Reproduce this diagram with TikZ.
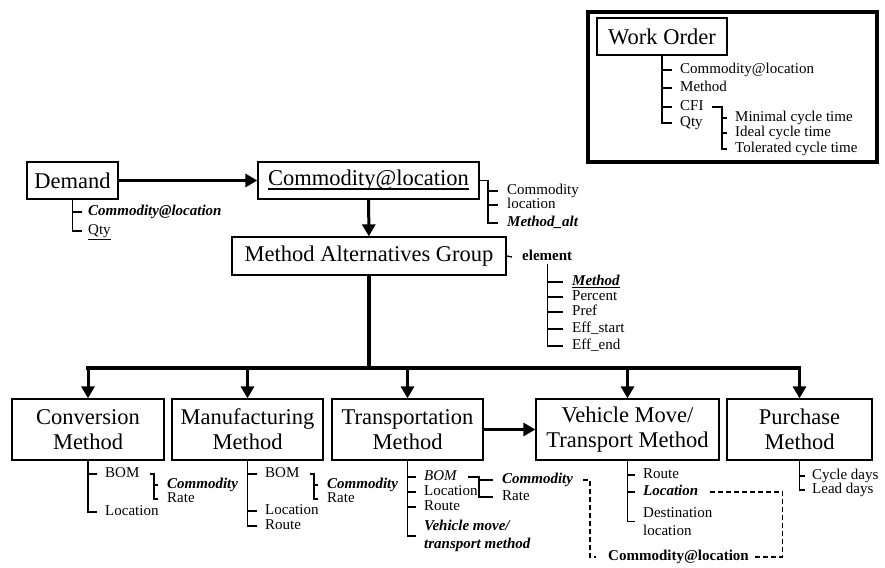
\documentclass[tikz,border=0pt]{standalone}
\usepackage{fontspec}
\setmainfont{Liberation Serif}
\usetikzlibrary{arrows.meta}
\tikzset{
	box/.style={draw,rectangle,line width=1.3pt,align=center,inner sep=0pt,font=\fontsize{22.5}{25}\selectfont},
	attr/.style={anchor=west,inner sep=0pt,text height=10pt,text depth=3pt,font=\fontsize{15}{17}\selectfont},
	attrtwo/.style={anchor=west,inner sep=0pt,align=left,font=\fontsize{15}{17.5}\selectfont},
	tree/.style={line width=1.3pt},
	link/.style={line width=3pt,-{Triangle[length=12pt,width=13pt]}},
	dashlink/.style={line width=1.5pt,dash pattern=on 5pt off 3pt}
}
\newcommand{\bi}[1]{\textbf{\textit{#1}}}
\newcommand{\bigul}[1]{\setbox0\hbox{#1}\rlap{\rule[-4pt]{\wd0}{1.8pt}}\box0}

\begin{document}
\begin{tikzpicture}[x=1pt,y=-1pt]
	\useasboundingbox (0,0) rectangle (885,567);
	% work order legend
	\node[draw,line width=4pt,minimum width=289pt,minimum height=150pt] (frame) at (732.5,87) {};
	\node[box,minimum width=130pt,minimum height=37pt] (wo) at (662,36.5) {Work Order};
	\node[attr] (wcal) at (680,70) {Commodity@location};
	\node[attr] (wmeth) at (680,88) {Method};
	\node[attr] (wcfi) at (680,107) {CFI};
	\node[attr] (wqty) at (680,123) {Qty};
	\node[attr] (wmin) at (735,118) {Minimal cycle time};
	\node[attr] (wideal) at (735,133) {Ideal cycle time};
	\node[attr] (wtol) at (735,149) {Tolerated cycle time};
	\draw[tree] (wo.south) |- ([xshift=-8pt]wqty.west);
	\foreach \n in {wcal,wmeth,wcfi} \draw[tree] (wo.south |- \n.west) -- ([xshift=-8pt]\n.west);
	\coordinate (cfi) at ([xshift=-13pt]wtol.west);
	\draw[tree] ([xshift=8pt]wcfi.east) -| (cfi) -- ([xshift=-8pt]wtol.west);
	\foreach \n in {wmin,wideal} \draw[tree] (cfi |- \n.west) -- ([xshift=-8pt]\n.west);

	% demand and commodity@location
	\node[box,minimum width=91pt,minimum height=37pt] (demand) at (72.5,180.5) {Demand};
	\node[box,minimum width=221pt,minimum height=37pt] (cal) at (368.5,180.5) {\bigul{Commodity@location}};
	\node[box,minimum width=274pt,minimum height=38pt] (mag) at (369,256) {Method Alternatives Group};
	\draw[link] (demand) -- (cal);
	\draw[link] (cal) -- (mag);
	\node[attr] (dcal) at (88,212) {\bi{Commodity@location}};
	\node[attr] (dqty) at (88,231) {\underline{Qty}};
	\draw[tree] (demand.south) |- ([xshift=-6pt]dqty.west);
	\draw[tree] (demand.south |- dcal.west) -- ([xshift=-6pt]dcal.west);
	\node[attr] (kcom) at (507,191) {Commodity};
	\node[attr] (kloc) at (507,205) {location};
	\node[attr] (kalt) at (507,223) {\bi{Method\_alt}};
	\coordinate (calb) at ([xshift=-19pt]kalt.west);
	\draw[tree] (cal.east) -| (calb) -- ([xshift=-9pt]kalt.west);
	\foreach \n in {kcom,kloc} \draw[tree] (calb |- \n.west) -- ([xshift=-9pt]\n.west);

	% element of the group
	\node[attr] (elem) at (522,257) {\textbf{element}};
	\draw[tree] (mag.east) -- ([xshift=-10pt]elem.west);
	\node[attr] (emeth) at (572,282) {\bi{\underline{Method}}};
	\node[attr] (eper) at (572,297) {Percent};
	\node[attr] (epref) at (572,312) {Pref};
	\node[attr] (estart) at (572,329) {Eff\_start};
	\node[attr] (eend) at (572,346) {Eff\_end};
	\draw[tree] (elem.south) |- ([xshift=-9pt]eend.west);
	\foreach \n in {emeth,eper,epref,estart} \draw[tree] (elem.south |- \n.west) -- ([xshift=-9pt]\n.west);

	% methods
	\node[box,minimum width=152pt,minimum height=61pt] (conv) at (88,429.5) {Conversion\\Method};
	\node[box,minimum width=151pt,minimum height=61pt] (manu) at (247.5,429.5) {Manufacturing\\Method};
	\node[box,minimum width=151pt,minimum height=61pt] (trans) at (407.5,429.5) {Transportation\\Method};
	\node[box,minimum width=183pt,minimum height=61pt] (veh) at (627.5,429.5) {Vehicle Move/\\Transport Method};
	\node[box,minimum width=145pt,minimum height=61pt] (purch) at (799.5,429.5) {Purchase\\Method};
	\coordinate (busy) at (0,368);
	\draw[line width=3.5pt] (mag.south) -- (mag.south |- busy);
	\draw[line width=3.5pt,line cap=rect] (conv.north |- busy) -- (purch.north |- busy);
	\foreach \b in {conv,manu,trans,veh,purch} \draw[link] (\b.north |- busy) -- (\b.north);
	\draw[link] (trans) -- (veh);

	% conversion
	\node[attr] (cvbom) at (105,474) {BOM};
	\node[attr] (cvloc) at (105,512) {Location};
	\node[attr] (cvcom) at (167,485) {\bi{Commodity}};
	\node[attr] (cvrate) at (167,499) {Rate};
	\draw[tree] (conv.south) |- ([xshift=-8pt]cvloc.west);
	\draw[tree] (conv.south |- cvbom.west) -- ([xshift=-8pt]cvbom.west);
	\coordinate (cvb) at ([xshift=-13pt]cvrate.west);
	\draw[tree] ([xshift=10pt]cvbom.east) -| (cvb) -- ([xshift=-9pt]cvrate.west);
	\draw[tree] (cvb |- cvcom.west) -- ([xshift=-9pt]cvcom.west);

	% manufacturing
	\node[attr] (mfbom) at (265,474) {BOM};
	\node[attr] (mfloc) at (265,511) {Location};
	\node[attr] (mfroute) at (265,526) {Route};
	\node[attr] (mfcom) at (327,485) {\bi{Commodity}};
	\node[attr] (mfrate) at (327,499) {Rate};
	\draw[tree] (manu.south) |- ([xshift=-8pt]mfroute.west);
	\foreach \n in {mfbom,mfloc} \draw[tree] (manu.south |- \n.west) -- ([xshift=-8pt]\n.west);
	\coordinate (mfb) at ([xshift=-13pt]mfrate.west);
	\draw[tree] ([xshift=10pt]mfbom.east) -| (mfb) -- ([xshift=-9pt]mfrate.west);
	\draw[tree] (mfb |- mfcom.west) -- ([xshift=-9pt]mfcom.west);

	% transportation
	\node[attr] (trbom) at (424,477) {\textit{BOM}};
	\node[attr] (trloc) at (424,492) {Location};
	\node[attr] (trroute) at (424,507) {Route};
	\node[attrtwo] (trveh) at (424,536) {\bi{Vehicle move/}\\\bi{transport method}};
	\node[attr] (trcom) at (502,480) {\bi{Commodity}};
	\node[attr] (trrate) at (502,497) {Rate};
	\draw[tree] (trans.south) |- ([xshift=-8pt]trveh.west);
	\foreach \n in {trbom,trloc,trroute} \draw[tree] (trans.south |- \n.west) -- ([xshift=-8pt]\n.west);
	\coordinate (trb) at ([xshift=-23pt]trrate.west);
	\draw[tree] ([xshift=10pt]trbom.east) -| (trb) -- ([xshift=-9pt]trrate.west);
	\draw[tree] (trb |- trcom.west) -- ([xshift=-9pt]trcom.west);

	% vehicle move
	\node[attr] (vmroute) at (643,475) {Route};
	\node[attr] (vmloc) at (643,492) {\bi{Location}};
	\node[attrtwo] (vmdest) at (643,521.5) {Destination\\location};
	\draw[tree] (veh.south) |- ([xshift=-8pt]vmdest.west);
	\foreach \n in {vmroute,vmloc} \draw[tree] (veh.south |- \n.west) -- ([xshift=-8pt]\n.west);
	\node[attr] (dcl) at (608,557) {\textbf{Commodity@location}};
	\draw[dashlink] ([xshift=10pt]trcom.east) -| ([xshift=-18pt]dcl.west) -- ([xshift=-12pt]dcl.west);
	\draw[dashlink] ([xshift=6pt]dcl.east) -| ([xshift=84pt]vmloc.east) -- ([xshift=10pt]vmloc.east);

	% purchase
	\node[attr] (pucyc) at (812,476) {Cycle days};
	\node[attr] (pulead) at (812,490) {Lead days};
	\draw[tree] (purch.south) |- ([xshift=-7pt]pulead.west);
	\draw[tree] (purch.south |- pucyc.west) -- ([xshift=-7pt]pucyc.west);
\end{tikzpicture}
\end{document}
